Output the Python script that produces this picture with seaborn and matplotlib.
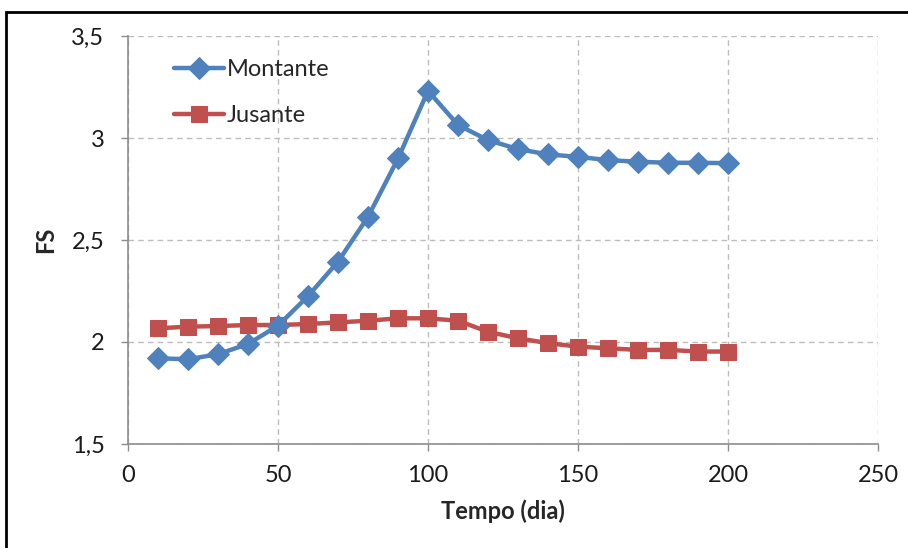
import pandas as pd
import numpy as np
import seaborn as sns
import matplotlib.pyplot as plt
from matplotlib.patches import Rectangle

# data
tempo = [10, 20, 30, 40, 50, 60, 70, 80, 90, 100,
         110, 120, 130, 140, 150, 160, 170, 180, 190, 200]
montante = [1.92, 1.915, 1.94, 1.99, 2.08, 2.225, 2.394, 2.614, 2.90, 3.232,
            3.064, 2.99, 2.946, 2.92, 2.908, 2.892, 2.884, 2.879, 2.879, 2.877]
jusante = [2.067, 2.075, 2.078, 2.083, 2.083, 2.088, 2.096, 2.104, 2.116, 2.116,
           2.104, 2.05, 2.018, 1.994, 1.977, 1.969, 1.961, 1.961, 1.953, 1.953]
series = ['Montante', 'Jusante']
colors = ['#4F81BD', '#C0504D']
markers = ['D', 's']

df = pd.DataFrame({'Tempo': tempo * 2,
                   'FS': montante + jusante,
                   'serie': np.repeat(series, len(tempo))})

sns.set_style('white')
plt.rcParams['font.family'] = ['Lato', 'DejaVu Sans']

fig = plt.figure(figsize=(9.08, 5.48), dpi=100)
ax = fig.add_axes([0.141, 0.190, 0.826, 0.744])

for name, col, mk, ms in zip(series, colors, markers, [11, 12]):
    sns.lineplot(data=df[df['serie'] == name], x='Tempo', y='FS', ax=ax,
                 color=col, marker=mk, markersize=ms, markeredgecolor=col,
                 linewidth=3.2, label=name, zorder=3 if name == 'Montante' else 2)

ax.set_xlim(0, 250)
ax.set_ylim(1.5, 3.5)
ax.set_xticks(range(0, 251, 50))
ax.set_yticks([1.5, 2, 2.5, 3, 3.5])
ax.set_yticklabels(['1,5', '2', '2,5', '3', '3,5'])
ax.grid(True, linestyle=(0, (4, 3)), color='#BDBDBD', linewidth=1)
ax.tick_params(axis='both', labelsize=17, colors='#1a1a1a', length=5,
               width=1, direction='out', left=True, bottom=True)
ax.tick_params(axis='x', pad=10)
ax.tick_params(axis='y', pad=12)
for s in ['top', 'right']:
    ax.spines[s].set_visible(False)
for s in ['left', 'bottom']:
    ax.spines[s].set_color('#8C8C8C')
    ax.spines[s].set_linewidth(1.2)
ax.tick_params(axis='both', color='#8C8C8C')

ax.set_xlabel('Tempo (dia)', fontsize=17, fontweight='bold', labelpad=10)
ax.set_ylabel('FS', fontsize=17, fontweight='bold', labelpad=10)

ax.legend(loc='upper left', bbox_to_anchor=(0.033, 0.995), frameon=False,
          fontsize=17, handlelength=2.1, handletextpad=0.15, labelspacing=1.05)

# outer frame of the figure (only top and left edges visible)
fig.patches.append(Rectangle((6 / 908, -0.05), 1.2, 1 - 12 / 548 + 0.05,
                             transform=fig.transFigure, fill=False,
                             edgecolor='black', linewidth=2))

fig.savefig('out.png', dpi=100)
